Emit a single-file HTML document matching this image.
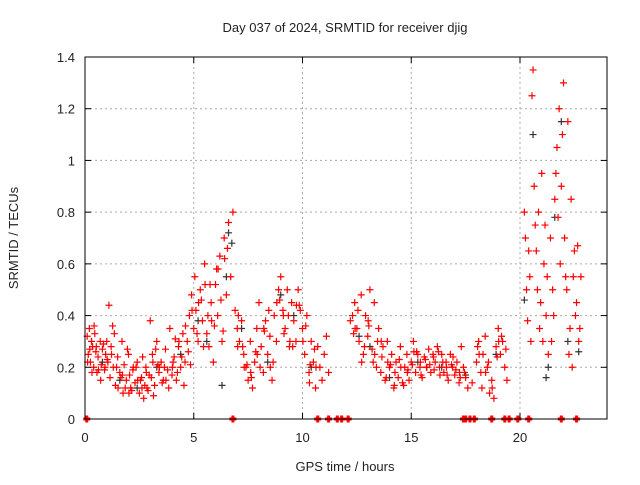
<!DOCTYPE html>
<html><head><meta charset="utf-8"><style>
body{margin:0;background:#fff;}
svg text{font-family:"Liberation Sans",sans-serif;font-size:13px;fill:#222;}
</style></head><body>
<svg id="chart" width="640" height="480" viewBox="0 0 640 480">
<rect width="640" height="480" fill="#fff"/>
<g id="grid"></g>
<g id="black"></g>
<g id="red"></g>
<g id="axes"></g>
<text x="345" y="32" text-anchor="middle">Day 037 of 2024, SRMTID for receiver djig</text>
<text x="345" y="471" text-anchor="middle">GPS time / hours</text>
<text transform="translate(18,238) rotate(-90)" text-anchor="middle">SRMTID / TECUs</text>
</svg>
<script>
const xTicks=[0,5,10,15,20];
const yTicks=[0,0.2,0.4,0.6,0.8,1,1.2,1.4];
const yTickLabels=["0","0.2","0.4","0.6","0.8","1","1.2","1.4"];
const redT=[0.1,0.15,0.2,0.25,0.3,0.35,0.4,0.45,0.5,0.55,0.6,0.7,0.75,0.8,0.9,0.95,1.0,1.05,1.1,1.15,1.2,1.3,1.35,1.4,1.5,1.6,1.7,1.75,1.8,1.9,2.0,2.1,2.2,2.3,2.4,2.5,2.6,2.7,2.75,2.8,2.9,3.0,3.05,3.1,3.2,3.3,3.4,3.5,3.6,3.7,3.8,3.9,4.0,4.1,4.2,4.3,4.4,4.5,4.6,4.7,4.8,4.9,5.0,5.05,5.1,5.2,5.3,5.4,5.5,5.6,5.7,5.8,5.9,6.0,6.1,6.2,6.3,6.4,6.5,6.6,6.7,6.8,6.9,7.0,7.1,7.2,7.3,7.4,7.5,7.6,7.7,7.8,7.9,8.0,8.1,8.2,8.3,8.4,8.5,8.6,8.7,8.8,8.9,9.0,9.1,9.2,9.3,9.4,9.5,9.6,9.7,9.8,9.9,10.0,10.1,10.2,10.3,10.4,10.5,10.6,10.7,10.8,10.9,11.0,11.1,11.2,12.2,12.3,12.4,12.5,12.6,12.7,12.8,12.9,13.0,13.1,13.2,13.3,13.4,13.5,13.6,13.7,13.8,13.9,14.0,14.1,14.2,14.3,14.4,14.5,14.6,14.7,14.8,14.9,15.0,15.1,15.2,15.3,15.4,15.5,15.6,15.7,15.8,15.9,16.0,16.1,16.2,16.3,16.4,16.5,16.6,16.7,16.8,16.9,17.0,17.1,17.2,17.3,17.4,17.5,17.6,17.8,18.0,18.1,18.2,18.3,18.4,18.5,18.6,18.7,18.8,18.9,19.0,19.1,19.2,19.3,19.4,20.2,20.3,20.4,20.5,20.6,20.65,20.7,20.8,20.9,21.0,21.1,21.2,21.3,21.4,21.5,21.6,21.7,21.8,21.9,22.0,22.1,22.2,22.3,22.4,22.5,22.6,22.7,22.8,20.25,20.35,20.45,20.55,20.75,20.85,20.95,21.05,21.15,21.25,21.45,21.55,21.65,21.75,21.85,21.95,22.05,22.15,22.25,22.35,22.45,22.55,22.65,22.75,
0.12,0.32,0.52,0.72,0.92,1.22,1.52,1.72,2.02,2.22,2.42,2.62,2.82,3.12,3.42,3.72,4.02,4.32,4.62,4.92,5.22,5.52,5.82,6.12,6.42,7.02,7.32,7.62,7.92,8.22,8.52,8.82,9.12,9.42,9.72,10.02,10.32,10.62,12.42,12.72,13.02,13.32,13.62,13.92,14.22,14.52,14.82,15.12,15.42,15.72,16.02,16.32,16.62,16.92,17.22,18.12,18.42,18.72,19.02,
0.22,0.42,0.62,0.85,1.02,1.27,1.45,1.65,1.85,1.95,2.05,2.15,2.35,2.55,2.65,2.85,2.95,3.15,3.25,3.35,3.55,3.65,3.85,4.05,4.15,4.25,4.45,4.55,4.75,4.85,5.15,5.35,5.45,5.65,5.75,5.95,6.05,6.25,6.35,6.55,7.05,7.25,7.45,7.65,7.85,8.05,8.25,8.45,8.65,8.95,9.15,9.35,9.55,9.85,10.15,10.35,10.55,12.35,12.55,12.85,13.05,13.25,13.45,13.65,13.85,14.05,14.25,14.45,14.65,14.85,15.05,15.25,15.45,15.65,15.85,16.05,16.25,16.45,16.65,16.85,17.05,17.25,17.45,18.05,18.25,18.55,18.95,19.15,19.35];
const redV=[0.32,0.25,0.35,0.22,0.3,0.28,0.2,0.33,0.26,0.18,0.24,0.3,0.21,0.27,0.19,0.25,0.3,0.22,0.44,0.16,0.28,0.2,0.33,0.13,0.24,0.18,0.3,0.1,0.21,0.15,0.25,0.12,0.19,0.14,0.22,0.1,0.16,0.08,0.13,0.2,0.11,0.38,0.16,0.25,0.13,0.3,0.18,0.22,0.15,0.27,0.19,0.35,0.17,0.24,0.15,0.28,0.2,0.33,0.22,0.3,0.4,0.48,0.35,0.55,0.42,0.3,0.5,0.38,0.6,0.33,0.28,0.45,0.22,0.52,0.4,0.63,0.3,0.7,0.48,0.76,0.55,0.8,0.42,0.35,0.3,0.38,0.25,0.2,0.15,0.3,0.12,0.22,0.35,0.45,0.28,0.18,0.38,0.25,0.32,0.15,0.4,0.3,0.5,0.55,0.42,0.35,0.5,0.28,0.45,0.38,0.3,0.5,0.42,0.35,0.25,0.4,0.18,0.3,0.22,0.12,0.28,0.2,0.15,0.25,0.32,0.18,0.38,0.4,0.45,0.35,0.3,0.48,0.25,0.4,0.32,0.5,0.27,0.45,0.2,0.35,0.18,0.28,0.15,0.3,0.2,0.25,0.12,0.22,0.16,0.28,0.14,0.2,0.25,0.15,0.22,0.3,0.18,0.25,0.2,0.16,0.24,0.2,0.27,0.18,0.25,0.22,0.28,0.2,0.25,0.18,0.22,0.15,0.25,0.2,0.17,0.22,0.14,0.28,0.2,0.16,0.12,0.14,0.22,0.3,0.18,0.25,0.32,0.2,0.1,0.15,0.08,0.28,0.35,0.25,0.3,0.2,0.15,0.8,0.5,0.65,0.3,1.35,0.9,0.75,0.5,0.35,0.95,0.6,0.4,0.25,0.7,0.5,0.85,1.05,1.2,0.9,1.3,0.55,1.15,0.35,0.2,0.65,0.45,0.3,0.55,0.7,0.38,0.55,1.25,0.65,0.8,0.45,0.3,0.75,0.55,0.3,0.4,0.95,0.78,0.6,1.1,0.7,0.5,0.25,0.85,0.55,0.4,0.67,0.35,
0.22,0.18,0.28,0.15,0.2,0.25,0.12,0.17,0.1,0.2,0.15,0.12,0.18,0.22,0.2,0.15,0.2,0.3,0.36,0.42,0.45,0.52,0.38,0.58,0.62,0.28,0.2,0.18,0.25,0.35,0.2,0.45,0.4,0.3,0.44,0.3,0.14,0.2,0.35,0.22,0.38,0.25,0.3,0.22,0.13,0.2,0.18,0.26,0.22,0.2,0.24,0.17,0.2,0.24,0.18,0.25,0.18,0.12,0.3,
0.27,0.36,0.19,0.29,0.23,0.36,0.2,0.16,0.12,0.27,0.17,0.11,0.2,0.15,0.24,0.12,0.17,0.09,0.27,0.21,0.14,0.2,0.12,0.22,0.31,0.18,0.24,0.13,0.26,0.21,0.33,0.46,0.28,0.4,0.52,0.36,0.58,0.46,0.34,0.66,0.4,0.28,0.21,0.16,0.26,0.2,0.34,0.42,0.22,0.46,0.33,0.4,0.28,0.44,0.36,0.21,0.27,0.33,0.42,0.28,0.36,0.22,0.3,0.24,0.16,0.21,0.18,0.23,0.13,0.19,0.21,0.26,0.17,0.23,0.21,0.19,0.26,0.22,0.17,0.21,0.19,0.16,0.18,0.28,0.12,0.22,0.24,0.32,0.27];
const blackT=[0.3,0.8,1.6,2.4,3.3,4.4,5.2,5.6,6.3,6.5,6.6,6.75,7.2,8.4,9.0,9.6,10.4,12.6,13.1,14.0,15.3,16.4,17.5,18.9,20.2,20.6,21.2,21.3,21.6,21.9,22.2,22.7];
const blackV=[0.3,0.22,0.15,0.12,0.2,0.25,0.38,0.3,0.13,0.55,0.72,0.68,0.35,0.22,0.48,0.4,0.2,0.32,0.28,0.16,0.22,0.2,0.17,0.25,0.46,1.1,0.16,0.2,0.78,1.15,0.3,0.26];
const zeroT=[0.08,6.8,10.7,11.2,11.6,11.8,12.1,17.4,17.5,17.7,17.9,18.7,19.3,19.5,19.9,20.4,21.9,22.6];

const X0=85,X1=607,Y0=419,Y1=57,XMAX=24,YMAX=1.4;
const sx=v=>X0+v/XMAX*(X1-X0);
const sy=v=>Y0-v/YMAX*(Y0-Y1);
const NS="http://www.w3.org/2000/svg";
function mk(tag,attrs,parent){const e=document.createElementNS(NS,tag);for(const k in attrs)e.setAttribute(k,attrs[k]);parent.appendChild(e);return e;}
const grid=document.getElementById('grid'),axes=document.getElementById('axes');
xTicks.forEach((t,i)=>{
  if(t>0){const l=mk('line',{x1:sx(t),x2:sx(t),y1:Y0,y2:Y1,stroke:'#aaa','stroke-dasharray':'2,3'},grid);
  
  }
  mk('line',{x1:sx(t),x2:sx(t),y1:Y0,y2:Y0-6,stroke:'#000'},axes);
  mk('line',{x1:sx(t),x2:sx(t),y1:Y1,y2:Y1+6,stroke:'#000'},axes);
  const tx=mk('text',{x:sx(t),y:Y0+23,'text-anchor':'middle'},axes);tx.textContent=t;
  
  
});
yTicks.forEach((t,i)=>{
  if(t>0&&t<YMAX){const l=mk('line',{x1:X0,x2:X1,y1:sy(t),y2:sy(t),stroke:'#aaa','stroke-dasharray':'2,3'},grid);
  
  }
  mk('line',{x1:X0,x2:X0+6,y1:sy(t),y2:sy(t),stroke:'#000'},axes);
  mk('line',{x1:X1,x2:X1-6,y1:sy(t),y2:sy(t),stroke:'#000'},axes);
  const tx=mk('text',{x:X0-10,y:sy(t)+5,'text-anchor':'end'},axes);tx.textContent=yTickLabels[i];
  
  
});
const frame=mk('rect',{x:X0,y:Y1,width:X1-X0,height:Y0-Y1,fill:'none',stroke:'#000'},axes);


function cross(g,x,y,c){const p=mk('path',{d:`M${x-3.5},${y}h7M${x},${y-3.5}v7`,stroke:c,'stroke-width':1.2,fill:'none'},g);return p;}
const bg=document.getElementById('black');
blackT.forEach((t,i)=>{const p=cross(bg,sx(t),sy(blackV[i]),'#333');
  
  });
const rg=document.getElementById('red');
redT.forEach((t,i)=>{const p=cross(rg,sx(t),sy(redV[i]),'#f00');
  
  });
zeroT.forEach(t=>{const p=cross(rg,sx(t),sy(0),'#f00');
  p.setAttribute('stroke-width','3');
  
  });
</script>
</body></html>
